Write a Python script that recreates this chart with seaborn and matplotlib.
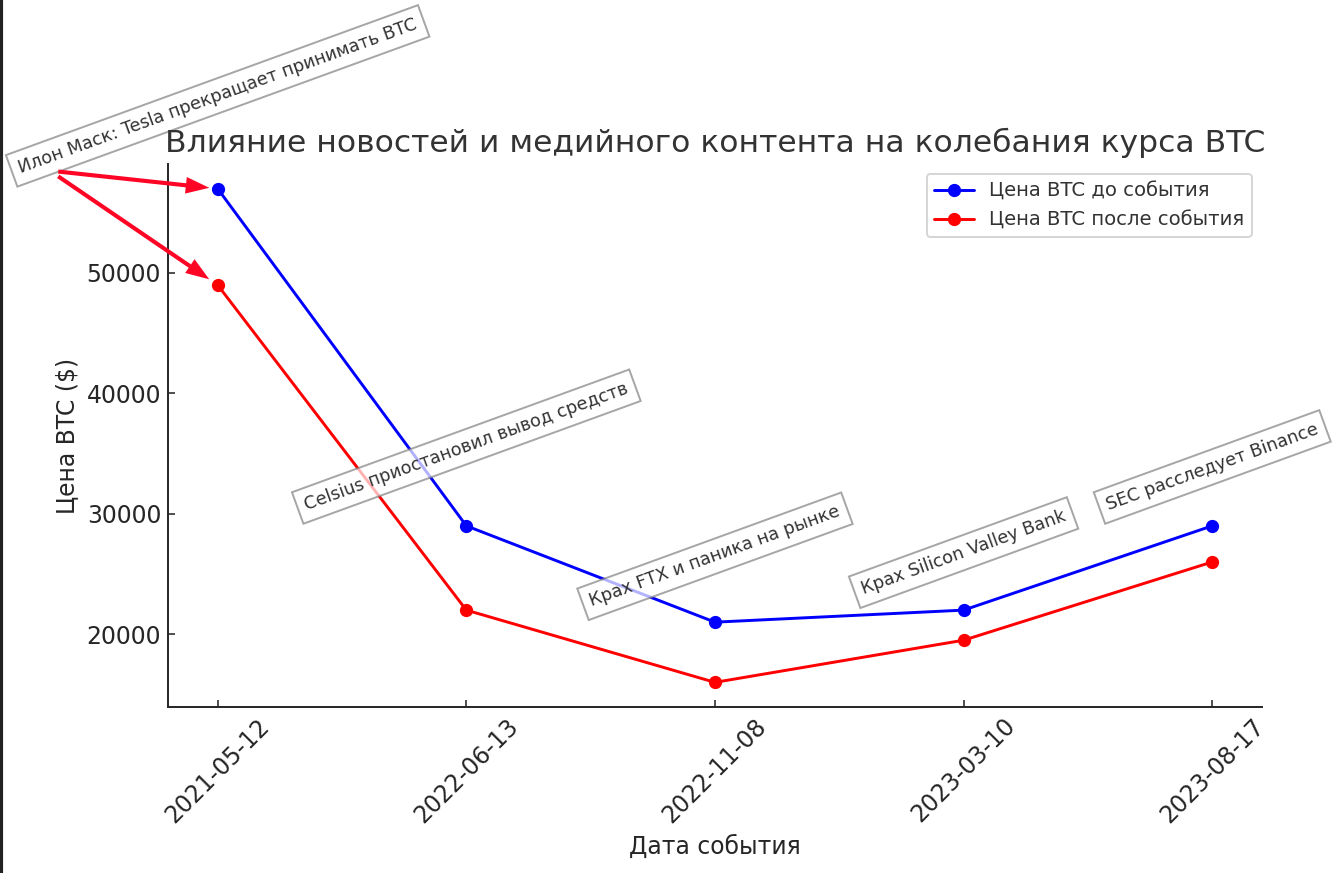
import matplotlib.pyplot as plt
import pandas as pd
import seaborn as sns
from matplotlib.lines import Line2D

# event dates (categorical x axis)
dates = ["2021-05-12", "2022-06-13", "2022-11-08", "2023-03-10", "2023-08-17"]

# BTC price before / after each event, $
price_before = [57000, 29000, 21000, 22000, 29000]
price_after = [49000, 22000, 16000, 19500, 26000]

events = [
    "Илон Маск: Tesla прекращает принимать BTC",
    "Celsius приостановил вывод средств",
    "Крах FTX и паника на рынке",
    "Крах Silicon Valley Bank",
    "SEC расследует Binance",
]

label_before = "Цена BTC до события"
label_after = "Цена BTC после события"

df = pd.DataFrame({"date": dates, "before": price_before, "after": price_after})

sns.set_style("ticks")
plt.rcParams.update(
    {
        "font.family": ["DejaVu Sans"],
        "axes.spines.top": False,
        "axes.spines.right": False,
        "axes.edgecolor": "#262626",
        "axes.linewidth": 1.0,
        "xtick.direction": "in",
        "ytick.direction": "in",
        "xtick.color": "#262626",
        "ytick.color": "#262626",
        "text.color": "#333333",
        "axes.labelcolor": "#262626",
    }
)

DPI = 141
fig = plt.figure(figsize=(1334 / DPI, 873 / DPI), dpi=DPI)
ax = fig.add_axes([0.1259, 0.1901, 0.8201, 0.6220])

sns.lineplot(
    data=df, x="date", y="before", label=label_before, color="blue",
    marker="o", markeredgecolor="blue", linewidth=1.5, markersize=6,
    sort=False, ax=ax,
)
sns.lineplot(
    data=df, x="date", y="after", label=label_after, color="red",
    marker="o", markeredgecolor="red", linewidth=1.5, markersize=6,
    sort=False, ax=ax,
)

# event labels above the "before" line
for i, (txt, val) in enumerate(zip(events, price_before)):
    ax.text(
        i, val + 1000, txt, rotation=20, ha="center", va="bottom", fontsize=9,
        color="#333333",
        bbox=dict(facecolor="white", edgecolor="gray", alpha=0.7),
    )

# arrows for the first event
for val in (price_before[0], price_after[0]):
    ax.annotate(
        "", xy=(0, val), xytext=(-0.675, 58500),
        arrowprops=dict(color="#ff0525", shrink=0.05, width=2.1,
                        headwidth=8.5, headlength=12, linewidth=0),
        annotation_clip=False,
    )

ax.set_title("Влияние новостей и медийного контента на колебания курса BTC",
             fontsize=16, color="#333333")
ax.set_xlabel("Дата события", fontsize=12)
ax.set_ylabel("Цена BTC ($)", fontsize=12)
ax.tick_params(axis="both", labelsize=12)
plt.setp(ax.get_xticklabels(), rotation=45)

ax.legend(loc="upper right", fontsize=10, frameon=True, fancybox=True,
          edgecolor="#cccccc")

# dark edge on the left of the picture
fig.add_artist(Line2D([0.0011, 0.0011], [0, 1], transform=fig.transFigure,
                      color="#222222", linewidth=1.6))

fig.savefig("out.png", dpi=DPI)
